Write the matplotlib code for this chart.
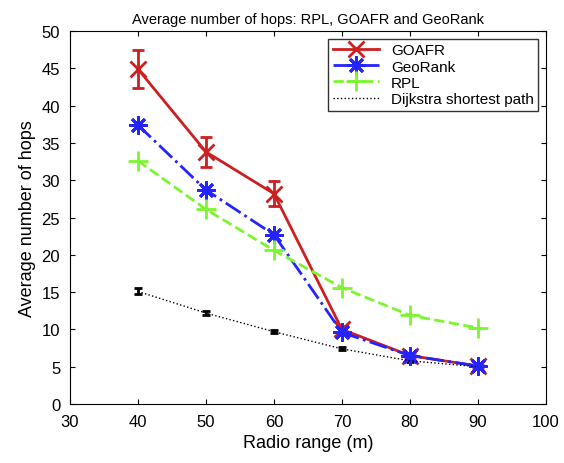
import numpy as np
import matplotlib.pyplot as plt

plt.rcParams['font.family'] = ['Liberation Sans', 'DejaVu Sans']

x = np.array([40, 50, 60, 70, 80, 90])
goafr = np.array([44.9, 33.8, 28.2, 10.0, 6.5, 5.1])
goafr_err = np.array([2.6, 2.0, 1.7, 0.5, 0.3, 0.2])
georank = np.array([37.4, 28.7, 22.7, 9.6, 6.5, 5.1])
georank_err = np.array([0.3, 0.3, 0.3, 0.2, 0.2, 0.2])
rpl = np.array([32.6, 26.1, 20.6, 15.6, 11.9, 10.2])
dijkstra = np.array([15.1, 12.2, 9.7, 7.4, 5.8, 5.0])
dijkstra_err = np.array([0.4, 0.3, 0.2, 0.2, 0.2, 0.2])

fig = plt.figure(figsize=(5.64, 4.64), dpi=100)
ax = fig.add_axes([0.124, 0.127, 0.844, 0.804])

# error bars first, lines with markers on top (legend shows only lines)
ax.errorbar(x, goafr, yerr=goafr_err, fmt='none', ecolor='#cc1f1f',
            capsize=4, elinewidth=2, capthick=2)
ax.errorbar(x, georank, yerr=georank_err, fmt='none', ecolor='#2424ff',
            capsize=3, elinewidth=1.5)
ax.errorbar(x, dijkstra, yerr=dijkstra_err, fmt='none', ecolor='black',
            capsize=3, capthick=2, elinewidth=2)

ax.plot(x, goafr, color='#cc1f1f', ls='-', lw=2, marker='x', ms=11, mew=2, label='GOAFR')
ax.plot(x, georank, color='#2424ff', ls='-.', lw=2, marker=(8, 2, 0), ms=13, mew=2,
        label='GeoRank')
ax.plot(x, rpl, color='#7cf530', ls='--', lw=2, marker='+', ms=14, mew=2, label='RPL')
ax.plot(x, dijkstra, color='black', ls=':', lw=1, label='Dijkstra shortest path')

ax.set_xlim(30, 100)
ax.set_ylim(0, 50)
ax.set_xticks(np.arange(30, 101, 10))
ax.set_yticks(np.arange(0, 51, 5))
ax.tick_params(direction='in', top=True, right=True, labelsize=12, pad=7)
ax.set_xlabel('Radio range (m)', fontsize=13)
ax.set_ylabel('Average number of hops', fontsize=13)
ax.set_title('Average number of hops: RPL, GOAFR and GeoRank', fontsize=10.5)

leg = ax.legend(loc='upper right', fontsize=11, fancybox=False, edgecolor='black',
                handlelength=3, borderpad=0.3, labelspacing=0.15)
leg.get_frame().set_linewidth(1)

plt.savefig('out.png')
